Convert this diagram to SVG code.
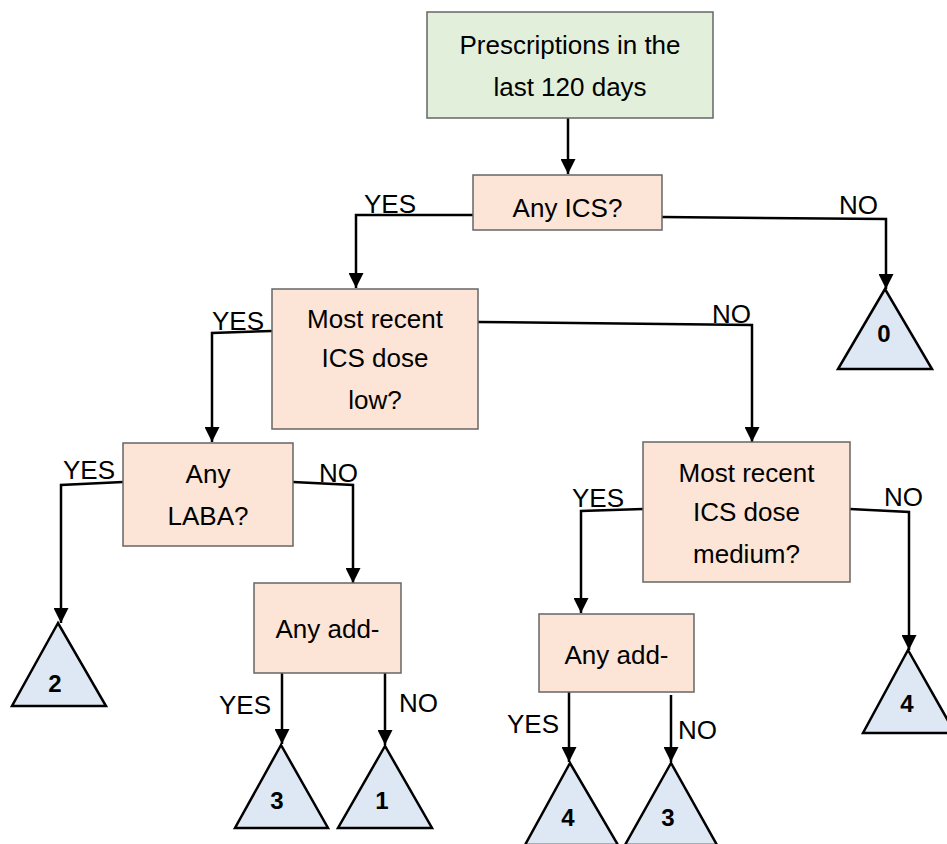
<svg xmlns="http://www.w3.org/2000/svg" width="947" height="844" viewBox="0 0 947 844">
<style>
.box{stroke:#666;stroke-width:1.5}
.start{fill:#e2efda}
.dec{fill:#fce5d6}
.leaf{fill:#dde8f4;stroke:#000;stroke-width:2.5;stroke-linejoin:miter}
.t{font-family:"Liberation Sans",Arial,Helvetica,sans-serif;font-size:26px;fill:#000}
.c{text-anchor:middle}
.n{font-family:"Liberation Sans",Arial,Helvetica,sans-serif;font-size:24px;font-weight:bold;text-anchor:middle;fill:#000}
.e{fill:none;stroke:#000;stroke-width:2.5}
</style>
<defs>
<marker id="arr" markerUnits="userSpaceOnUse" markerWidth="15" markerHeight="15" viewBox="0 0 15 15" refX="15" refY="7.5" orient="auto">
<path d="M0,0 L15,7.5 L0,15 z" fill="#000"/>
</marker>
</defs>
<rect width="947" height="844" fill="#fff"/>
<g id="connectors">
<path class="e" marker-end="url(#arr)" d="M568,118 V174"/>
<path class="e" marker-end="url(#arr)" d="M473,215 H356 V288"/>
<path class="e" marker-end="url(#arr)" d="M662,217 L886,219 V289"/>
<path class="e" marker-end="url(#arr)" d="M272,331 L212,333 V442"/>
<path class="e" marker-end="url(#arr)" d="M478,322 L752,325 V442"/>
<path class="e" marker-end="url(#arr)" d="M123,482 L61,485 V623"/>
<path class="e" marker-end="url(#arr)" d="M293,482 L353,485 V583"/>
<path class="e" marker-end="url(#arr)" d="M282,673 V744"/>
<path class="e" marker-end="url(#arr)" d="M385,673 V745"/>
<path class="e" marker-end="url(#arr)" d="M643,509 L581,511 V613"/>
<path class="e" marker-end="url(#arr)" d="M850,509 L909,512 V650"/>
<path class="e" marker-end="url(#arr)" d="M569,692 V762"/>
<path class="e" marker-end="url(#arr)" d="M671,695 V762"/>
<text class="t" x="364" y="213">YES</text>
<text class="t" x="839" y="214">NO</text>
<text class="t" x="212" y="330">YES</text>
<text class="t" x="712" y="323">NO</text>
<text class="t" x="63" y="479">YES</text>
<text class="t" x="319" y="482">NO</text>
<text class="t" x="572" y="507">YES</text>
<text class="t" x="884" y="506">NO</text>
<text class="t" x="219" y="714">YES</text>
<text class="t" x="399" y="712">NO</text>
<text class="t" x="507" y="733">YES</text>
<text class="t" x="678" y="739">NO</text>
</g>
<g id="n-start">
<rect class="box start" x="427" y="12" width="286" height="106"/>
<text class="t c" x="570" y="54">Prescriptions in the</text>
<text class="t c" x="570" y="96">last 120 days</text>
</g>
<g id="n-ics">
<rect class="box dec" x="473" y="175" width="189" height="55"/>
<text class="t c" x="567.5" y="217">Any ICS?</text>
</g>
<g id="n-low">
<rect class="box dec" x="272" y="289" width="206" height="140"/>
<text class="t c" x="375" y="328">Most recent</text>
<text class="t c" x="375" y="367">ICS dose</text>
<text class="t c" x="375" y="409">low?</text>
</g>
<g id="n-laba">
<rect class="box dec" x="123" y="443" width="170" height="103"/>
<text class="t c" x="208" y="483">Any</text>
<text class="t c" x="208" y="525">LABA?</text>
</g>
<g id="n-addL">
<rect class="box dec" x="254" y="583" width="147" height="90"/>
<text class="t c" x="327.5" y="638">Any add-</text>
</g>
<g id="n-med">
<rect class="box dec" x="643" y="442" width="207" height="140"/>
<text class="t c" x="746.5" y="482">Most recent</text>
<text class="t c" x="746.5" y="521">ICS dose</text>
<text class="t c" x="746.5" y="563">medium?</text>
</g>
<g id="n-addR">
<rect class="box dec" x="539" y="614" width="155" height="78"/>
<text class="t c" x="616.5" y="664">Any add-</text>
</g>
<g id="leaf-0">
<polygon class="leaf" points="885,289 838,369 932,369"/>
<text class="n" x="884" y="342">0</text>
</g>
<g id="leaf-2">
<polygon class="leaf" points="58,623 12,706 106,706"/>
<text class="n" x="55" y="692">2</text>
</g>
<g id="leaf-3a">
<polygon class="leaf" points="281,745 235,828 328,828"/>
<text class="n" x="277" y="809">3</text>
</g>
<g id="leaf-1">
<polygon class="leaf" points="385,746 338,828 432,828"/>
<text class="n" x="382" y="809">1</text>
</g>
<g id="leaf-4a">
<polygon class="leaf" points="908,650 863,733 955,733"/>
<text class="n" x="907" y="712">4</text>
</g>
<g id="leaf-4b">
<polygon class="leaf" points="570,763 525,845 618,845"/>
<text class="n" x="568" y="826">4</text>
</g>
<g id="leaf-3b">
<polygon class="leaf" points="671,763 625,845 717,845"/>
<text class="n" x="668" y="826">3</text>
</g>
</svg>
